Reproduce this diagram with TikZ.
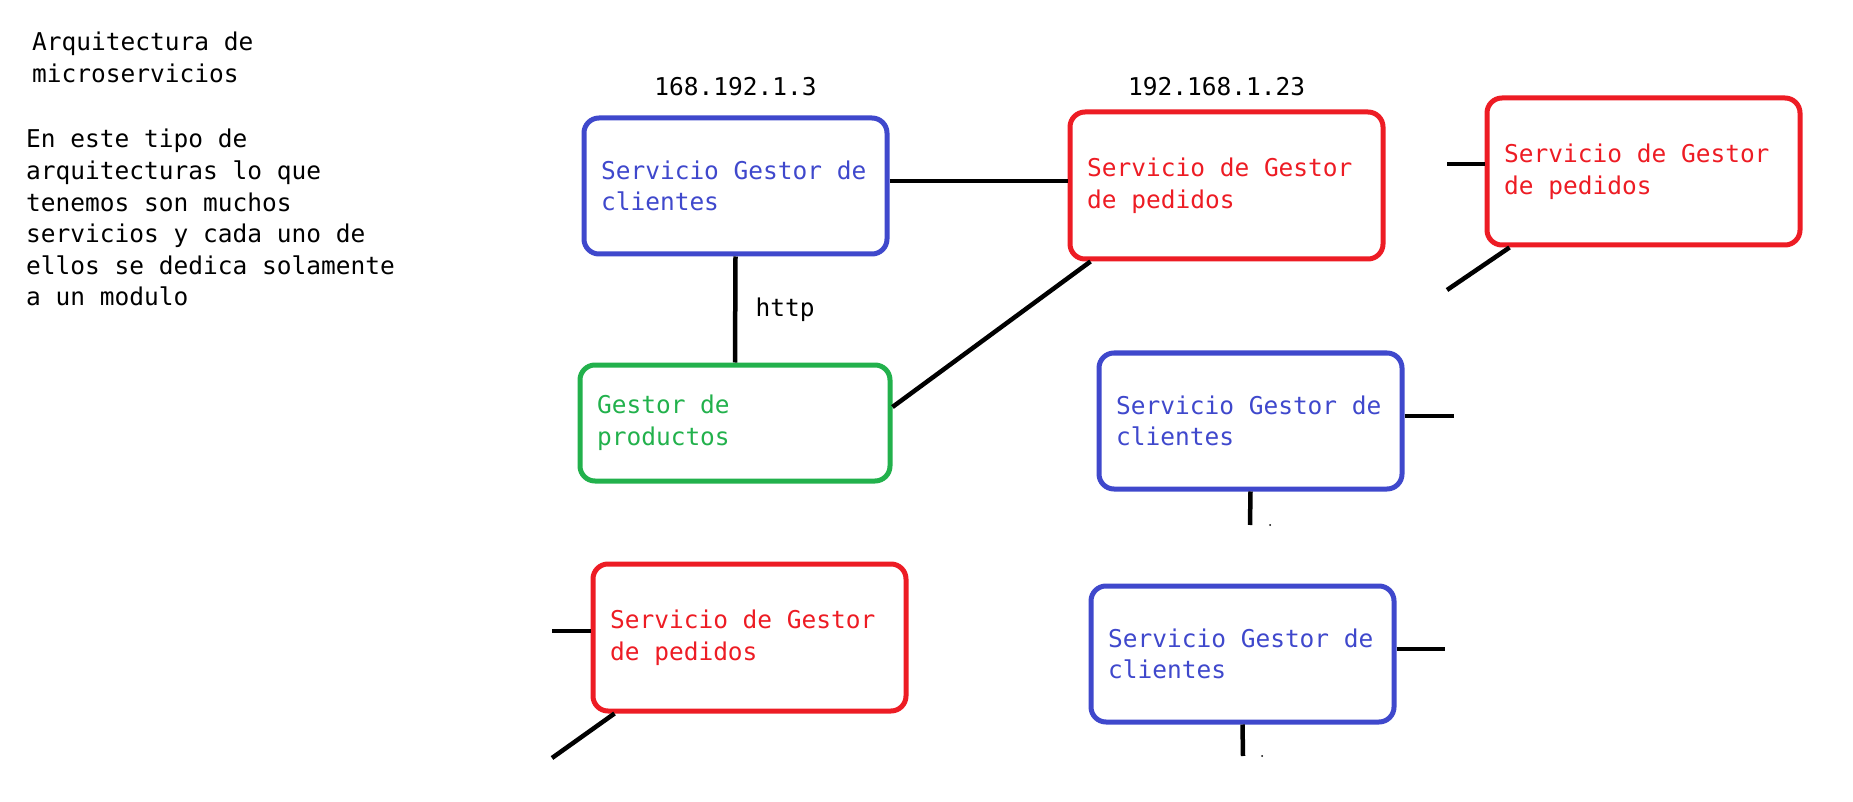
\documentclass[tikz,border=0pt]{standalone}
\usepackage{fontspec}
\setmonofont{DejaVu Sans Mono}
\usepackage{xcolor}
\usetikzlibrary{positioning,calc}

\definecolor{azul}{RGB}{63,72,204}
\definecolor{rojo}{RGB}{237,28,36}
\definecolor{verde}{RGB}{34,177,76}

\tikzset{
  letra/.style={font=\ttfamily\fontsize{24.5}{31.6}\selectfont},
  servicio/.style={draw=#1, text=#1, letra, line width=5pt, rounded corners=15pt,
    align=left, inner xsep=17pt, inner ysep=0pt,
    execute at begin node={\spaceskip=\fontdimen2\font\relax}},
  clientes/.style={servicio=azul, text width=269pt, minimum height=136pt},
  pedidos/.style={servicio=rojo, text width=279pt, minimum height=147pt},
  productos/.style={servicio=verde, text width=276pt, minimum height=116pt},
  texto/.style={letra, align=left, inner sep=0pt, anchor=north west},
  etiqueta/.style={letra, inner sep=0pt},
  enlace/.style={line width=4.5pt, black},
  punto/.style={fill=black, circle, inner sep=0pt, minimum size=2pt}
}

\begin{document}
\begin{tikzpicture}[x=1pt,y=-1pt]
  \useasboundingbox (0,0) rectangle (1853,802);

  % Texto de la izquierda
  \node[texto] (titulo) at (32,32) {Arquitectura de\\microservicios};
  \node[texto] (parrafo) at (26,129) {En este tipo de\\arquitecturas lo que\\tenemos son muchos\\servicios y cada uno de\\ellos se dedica solamente\\a un modulo};

  % Servicios conectados
  \node[clientes] (cli1) at (735.5,186) {Servicio Gestor de\\clientes};
  \node[pedidos] (ped1) at (1226.5,185.5) {Servicio de Gestor\\de pedidos};
  \node[productos] (prod) at (735,423) {Gestor de\\productos};

  % Direcciones
  \node[etiqueta, above=20pt of cli1.north, anchor=base] (ip1) {168.192.1.3};
  \node[etiqueta, above=14pt of ped1.north, anchor=base, xshift=-10pt] (ip2) {192.168.1.23};

  % Enlaces
  \draw[enlace] ([yshift=5pt]cli1.east) -- ([yshift=5pt]cli1.east -| ped1.west);
  \draw[enlace] (cli1.south) -- node[etiqueta, right=18pt] (http) {http} (prod.north);
  \draw[enlace] ([xshift=23pt]ped1.south west) -- ([yshift=16pt]prod.east);

  % Otros servicios
  \node[pedidos] (ped2) at (1643.5,171.5) {Servicio de Gestor\\de pedidos};
  \node[clientes] (cli2) at (1250.5,421) {Servicio Gestor de\\clientes};
  \node[pedidos] (ped3) at (749.5,637.5) {Servicio de Gestor\\de pedidos};
  \node[clientes] (cli3) at (1242.5,654) {Servicio Gestor de\\clientes};

  % Extremos sueltos
  \coordinate (ped2a) at (1447,164);
  \coordinate (ped2b) at (1447,290);
  \coordinate (cli2a) at (1454,416);
  \coordinate (cli2b) at (1250,525);
  \coordinate (ped3a) at (552,631);
  \coordinate (ped3b) at (552,758);
  \coordinate (cli3a) at (1445,649);
  \coordinate (cli3b) at (1243,756);

  \draw[enlace] (ped2a) -- (ped2a -| ped2.west);
  \draw[enlace] ([xshift=25pt]ped2.south west) -- (ped2b);
  \draw[enlace] (cli2a -| cli2.east) -- (cli2a);
  \draw[enlace] (cli2.south) -- (cli2b);
  \draw[enlace] (ped3a) -- (ped3a -| ped3.west);
  \draw[enlace] ([xshift=24pt]ped3.south west) -- (ped3b);
  \draw[enlace] (cli3a -| cli3.east) -- (cli3a);
  \draw[enlace] (cli3.south) -- (cli3b);

  \node[punto] (p1) at (1270,525) {};
  \node[punto] (p2) at (1262,756) {};
\end{tikzpicture}
\end{document}
